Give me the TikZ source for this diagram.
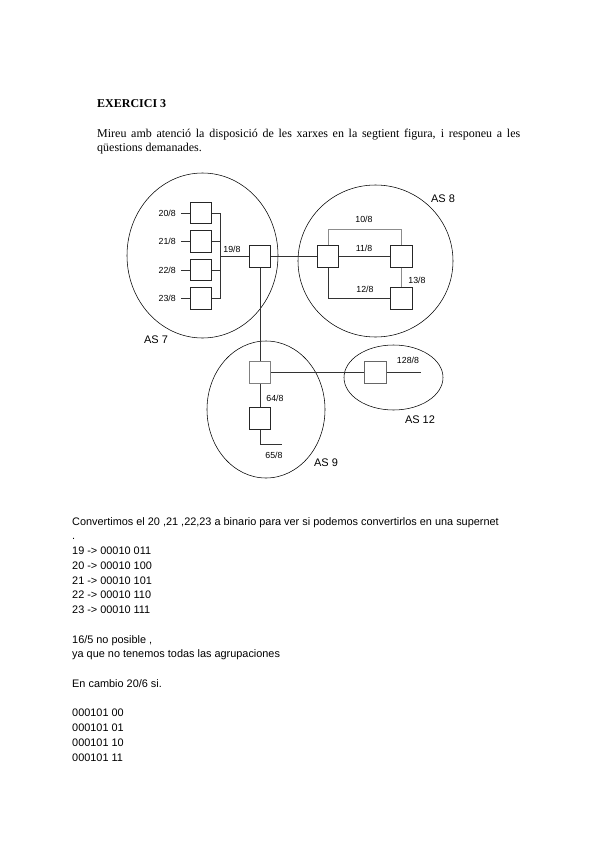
\documentclass[tikz,border=0pt]{standalone}
\usepackage{fontspec}
\setmainfont{Liberation Serif}
\newfontfamily\arialf{Liberation Sans}
\begin{document}
\begin{tikzpicture}[x=1pt,y=-1pt,
  sw/.style={draw=black!85, minimum width=21.5pt, minimum height=21.5pt, inner sep=0pt, line width=0.7pt},
  lbl/.style={font=\arialf\fontsize{8.8}{10}\selectfont, inner sep=0pt},
  aslbl/.style={font=\arialf\fontsize{11}{12}\selectfont, inner sep=0pt},
  net/.style={line width=0.6pt, draw=black!80},
  gnet/.style={line width=0.6pt, draw=black!45},
  cloud/.style={line width=0.55pt, draw=black},
  body/.style={font=\arialf\fontsize{10.9}{13}\selectfont, inner sep=0pt, anchor=base west},
  head/.style={font=\fontsize{12}{14}\selectfont, inner sep=0pt, anchor=base west}]
\useasboundingbox (0,0) rectangle (600,848);
\fill[white] (0,0) rectangle (600,848);

% header text
\node[head] (title) at (97,108) {\textbf{EXERCICI 3}};
\node[head] (p1) at (97,137) {\makebox[423pt][s]{Mireu amb atenció la disposició de les xarxes en la segtient figura, i responeu a les}};
\node[head] (p2) at (97,151) {qüestions demanades.};

% autonomous systems
\draw[cloud] (202.5,255.5) ellipse [x radius=75.5pt, y radius=82.5pt];
\draw[cloud] (375.5,261) ellipse [x radius=77.5pt, y radius=76pt];
\draw[cloud] (266,409.5) ellipse [x radius=59pt, y radius=68.5pt];
\draw[cloud] (393.5,377.5) ellipse [x radius=49.5pt, y radius=32.5pt];

% AS 7
\foreach \n/\y in {20/213,21/241.5,22/270,23/298.5}{
  \node[sw] (b\n) at (201,\y) {};
  \draw[net] (b\n.west) -- ++(-9,0);
  \node[lbl, anchor=east] (l\n) at (176,\y) {\n/8};
}
\coordinate (bustop) at (220,213);
\coordinate (busbot) at (220,298.5);
\coordinate (busmid) at (220,256.5);
\draw[net] (bustop) -- (busbot);
\foreach \n in {20,21,22,23}{ \draw[net] (b\n.east) -- (b\n.east -| bustop); }
\node[sw] (s19) at (260,256.5) {};
\draw[net] (busmid) -- (s19.west);
\node[lbl] (l19) at (232,249) {19/8};
\node[aslbl] (as7) at (156,340) {AS 7};

% AS 8
\node[sw] (s8a) at (328,256.5) {};
\node[sw] (s8b) at (401.5,256.5) {};
\node[sw] (s8c) at (401.5,298.5) {};
\draw[net] (s19.east) -- (s8a.west);
\draw[gnet] (s8a.north) -- ++(0,-16.5) -| (s8b.north);
\draw[net] (s8a.east) -- (s8b.west);
\draw[net] (s8a.south) |- (s8c.west);
\draw[gnet] (s8b.south) -- (s8c.north);
\node[lbl] (l10) at (364,219) {10/8};
\node[lbl] (l11) at (364,248) {11/8};
\node[lbl] (l12) at (365,289) {12/8};
\node[lbl] (l13) at (417,280) {13/8};
\node[aslbl] (as8) at (443,199) {AS 8};

% AS 9
\node[sw, draw=black!50] (s9a) at (260,372.5) {};
\node[sw] (s9b) at (260,418.5) {};
\draw[net] (s19.south) -- (s9a.north);
\draw[net] (s9a.south) -- (s9b.north);
\coordinate (e65) at (282,444);
\draw[net] (s9b.south) |- (e65);
\node[lbl] (l64) at (275,398) {64/8};
\node[lbl] (l65) at (274,455) {65/8};
\node[aslbl] (as9) at (326,463) {AS 9};

% AS 12
\node[sw, draw=black!60] (s12) at (375.5,372.5) {};
\draw[net] (s9a.east) -- (s12.west);
\coordinate (e128) at (421,372.5);
\draw[net] (s12.east) -- (e128);
\node[lbl] (l128) at (408,360) {128/8};
\node[aslbl] (as12) at (420,420) {AS 12};

% answer text
\foreach \t [count=\i from 0] in {
  {Convertimos el 20 ,21 ,22,23 a binario para ver si podemos convertirlos en una supernet},
  {.},
  {19 -> 00010 011},
  {20 -> 00010 100},
  {21 -> 00010 101},
  {22 -> 00010 110},
  {23 -> 00010 111},
  {},
  {16/5 no posible ,},
  {ya que no tenemos todas las agrupaciones},
  {},
  {En cambio 20/6 si.},
  {},
  {000101 00},
  {000101 01},
  {000101 10},
  {000101 11}}{
  \node[body] (t\i) at (72,{525+\i*14.75}) {\t};
}
\end{tikzpicture}
\end{document}
